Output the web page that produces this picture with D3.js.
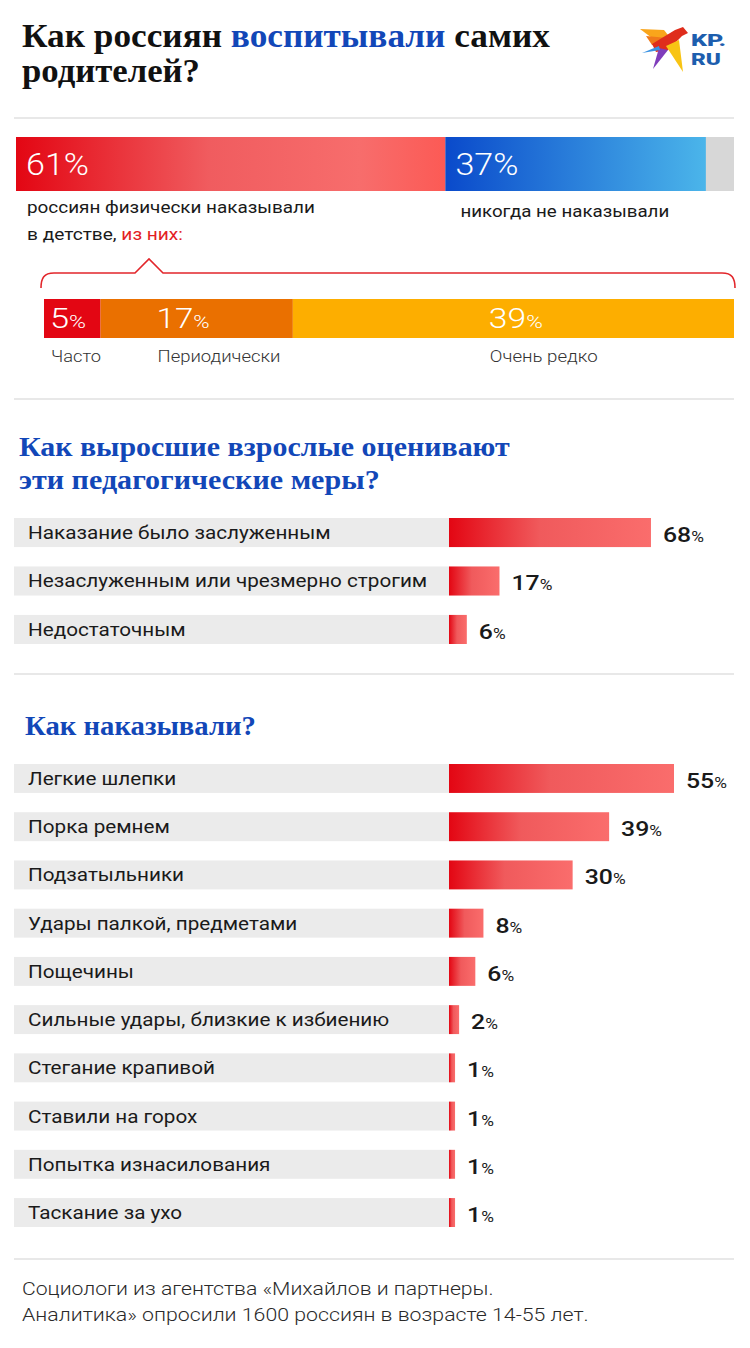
<!DOCTYPE html>
<html><head><meta charset="utf-8">
<script src="https://cdn.jsdelivr.net/npm/d3@7"></script>
<style>
html,body{margin:0;padding:0;background:#fff;}
svg{display:block;}
</style></head>
<body>
<script>
// ---------- DATA ----------
const topShares = [61, 37];              // физически наказывали / никогда не наказывали
const topTotal = 102;                    // bar scale total (incl. grey remainder)
const topLabels = ["61%", "37%"];
const freqCategories = ["Часто", "Периодически", "Очень редко"];
const freqValues = [5, 17, 39];
const evalCategories = ["Наказание было заслуженным", "Незаслуженным или чрезмерно строгим", "Недостаточным"];
const evalValues = [68, 17, 6];
const methodCategories = ["Легкие шлепки", "Порка ремнем", "Подзатыльники", "Удары палкой, предметами", "Пощечины",
  "Сильные удары, близкие к избиению", "Стегание крапивой", "Ставили на горох", "Попытка изнасилования", "Таскание за ухо"];
const methodValues = [55, 39, 30, 8, 6, 2, 1, 1, 1, 1];

// ---------- LAYOUT ----------
const W = 750, H = 1348;
const SANS = "Roboto, 'Noto Sans', sans-serif";
const SERIF = "'Liberation Serif', 'DejaVu Serif', serif";
const BLUE = "#1247b8";

const svg = d3.select("body").append("svg").attr("width", W).attr("height", H);
svg.append("rect").attr("width", W).attr("height", H).attr("fill", "#fff");
const defs = svg.append("defs");
function grad(id, stops) {
  const g = defs.append("linearGradient").attr("id", id).attr("x1", 0).attr("x2", 1).attr("y1", 0).attr("y2", 0);
  stops.forEach(s => g.append("stop").attr("offset", s[0]).attr("stop-color", s[1]));
}
grad("gBigRed", [[0, "#e30613"], [0.45, "#f05c5f"], [0.8, "#f76d6c"], [1, "#fc5a55"]]);
grad("gBlue", [[0, "#0a4acb"], [1, "#4bb5ea"]]);
grad("gBar", [[0, "#e30613"], [0.45, "#f05a5c"], [1, "#fa6d6c"]]);

// stretch a text horizontally to a target width (around its x anchor)
function fit(sel, target) {
  sel.each(function () {
    const n = this, w = n.getComputedTextLength();
    const x = +n.getAttribute("x") || 0;
    const s = target / w;
    d3.select(n).attr("transform", `translate(${x},0) scale(${s},1) translate(${-x},0)`);
  });
}
function stretchBy(sel, s) {
  sel.each(function () {
    const x = +this.getAttribute("x") || 0;
    d3.select(this).attr("transform", `translate(${x},0) scale(${s},1) translate(${-x},0)`);
  });
}
function sep(y) {
  svg.append("line").attr("x1", 14).attr("x2", 734).attr("y1", y).attr("y2", y)
    .attr("stroke", "#e8e8e8").attr("stroke-width", 2);
}

// ---------- TITLE ----------
const t1 = svg.append("text").attr("x", 22).attr("y", 47).attr("font-family", SERIF)
  .attr("font-weight", "bold").attr("font-size", 34).attr("fill", "#111");
t1.append("tspan").text("Как россиян ");
t1.append("tspan").attr("fill", BLUE).text("воспитывали");
t1.append("tspan").text(" самих");
fit(t1, 528);
const t2 = svg.append("text").attr("x", 22).attr("y", 82).attr("font-family", SERIF)
  .attr("font-weight", "bold").attr("font-size", 34).attr("fill", "#111").text("родителей?");
fit(t2, 178);

// ---------- LOGO ----------
const logo = svg.append("g");
const poly = (pts, c) => logo.append("polygon").attr("points", pts.map(p => p.join(",")).join(" ")).attr("fill", c);
poly([[640, 29], [664, 30], [672, 40], [656, 41]], "#f9a51b");
poly([[646, 36], [668, 38], [664, 46], [652, 45]], "#f07a1a");
poly([[652, 44], [675, 30], [683, 27], [688, 33], [682, 36], [668, 50], [656, 52]], "#df2d1c");
poly([[666, 46], [679, 40], [683, 72]], "#f8c414");
poly([[659, 48], [668, 50], [653, 69]], "#7f3dbb");
poly([[642, 53], [659, 46], [660, 50]], "#3b93e3");
const kp = logo.append("text").attr("x", 691).attr("y", 46).attr("font-family", SANS).attr("font-weight", 900)
  .attr("font-size", 16).attr("fill", "#1d5eae").text("KP.");
const ru = logo.append("text").attr("x", 691).attr("y", 65).attr("font-family", SANS).attr("font-weight", 900)
  .attr("font-size", 16).attr("fill", "#1d5eae").text("RU");
fit(kp, 35);
fit(ru, 30);

sep(118);

// ---------- TOP BAR ----------
const xTop = d3.scaleLinear().domain([0, topTotal]).range([16, 734]);
const topCum = [0, topShares[0], topShares[0] + topShares[1]];
svg.append("rect").attr("x", xTop(0)).attr("y", 137).attr("width", xTop(topTotal) - xTop(0)).attr("height", 54).attr("fill", "#d7d7d7");
svg.selectAll(".topseg").data(topShares).join("rect")
  .attr("x", (d, i) => xTop(topCum[i])).attr("y", 137)
  .attr("width", d => xTop(d) - xTop(0)).attr("height", 54)
  .attr("fill", (d, i) => i === 0 ? "url(#gBigRed)" : "url(#gBlue)");
const topTxt = svg.selectAll(".toptxt").data(topLabels).join("text")
  .attr("x", (d, i) => xTop(topCum[i]) + 10).attr("y", 175)
  .attr("font-family", SANS).attr("font-weight", 300).attr("font-size", 32).attr("fill", "#fff").text(d => d);
fit(topTxt, 63);

const l1 = svg.append("text").attr("x", 27).attr("y", 213).attr("font-family", SANS).attr("font-size", 17).attr("fill", "#1a1a1a").text("россиян физически наказывали");
fit(l1, 288);
const l2 = svg.append("text").attr("x", 27).attr("y", 240).attr("font-family", SANS).attr("font-size", 17).attr("fill", "#1a1a1a");
l2.append("tspan").text("в детстве, ");
l2.append("tspan").attr("fill", "#e31e24").text("из них:");
fit(l2, 156);
const l3 = svg.append("text").attr("x", xTop(topCum[1]) + 15).attr("y", 217).attr("font-family", SANS).attr("font-size", 17).attr("fill", "#1a1a1a").text("никогда не наказывали");
fit(l3, 209);

// bracket
svg.append("path")
  .attr("d", "M41,288 C41,278 44,273 54,273 L135,273 L149,259 L163,273 L722,273 C732,273 735,278 735,288")
  .attr("fill", "none").attr("stroke", "#e2262b").attr("stroke-width", 1.6);

// ---------- FREQUENCY BAR ----------
const freqTotal = d3.sum(freqValues);
const xFreq = d3.scaleLinear().domain([0, freqTotal]).range([44, 734]);
const freqCum = d3.cumsum([0, ...freqValues]);
const freqColors = ["#e30613", "#ea7000", "#fdae00"];
const freqLabelOffset = [6, 56, 196];
const freqTextW = [36, 53, 54];
const freqCatW = [50, 123, 108];
svg.selectAll(".fseg").data(freqValues).join("rect")
  .attr("x", (d, i) => xFreq(freqCum[i])).attr("y", 299)
  .attr("width", d => xFreq(d) - xFreq(0)).attr("height", 39)
  .attr("fill", (d, i) => freqColors[i]);
freqValues.forEach((v, i) => {
  const x = xFreq(freqCum[i]) + freqLabelOffset[i];
  const t = svg.append("text").attr("x", x).attr("y", 328).attr("font-family", SANS).attr("font-weight", 300)
    .attr("fill", "#fff").attr("font-size", 27);
  t.append("tspan").text(v);
  t.append("tspan").attr("font-size", 18).text("%");
  fit(t, freqTextW[i]);
  const c = svg.append("text").attr("x", x + 1).attr("y", 362).attr("font-family", SANS).attr("font-weight", 300)
    .attr("fill", "#333").attr("font-size", 17).text(freqCategories[i]);
  fit(c, freqCatW[i]);
});

sep(399);

// ---------- SECTION 2 ----------
const s2a = svg.append("text").attr("x", 19).attr("y", 456).attr("font-family", SERIF).attr("font-weight", "bold")
  .attr("font-size", 28).attr("fill", BLUE).text("Как выросшие взрослые оценивают");
fit(s2a, 491);
const s2b = svg.append("text").attr("x", 19).attr("y", 489).attr("font-family", SERIF).attr("font-weight", "bold")
  .attr("font-size", 28).attr("fill", BLUE).text("эти педагогические меры?");
fit(s2b, 361);

const BAR0 = 449;
let labelStretch = null, valueStretch = null;
function rows(cats, vals, y, x) {
  const g = svg.append("g");
  const r = g.selectAll("g").data(cats.map((c, i) => ({ c, v: vals[i] }))).join("g");
  r.append("rect").attr("x", 14).attr("y", d => y(d.c)).attr("width", BAR0 - 14).attr("height", y.bandwidth()).attr("fill", "#ebebeb");
  r.append("rect").attr("x", x(0)).attr("y", d => y(d.c)).attr("width", d => x(d.v) - x(0)).attr("height", y.bandwidth()).attr("fill", "url(#gBar)");
  const lab = r.append("text").attr("x", 28).attr("y", d => y(d.c) + 21).attr("font-family", SANS).attr("font-size", 18)
    .attr("fill", "#1a1a1a").text(d => d.c);
  const val = r.append("text").attr("x", d => x(d.v) + 12).attr("y", d => y(d.c) + 24).attr("font-family", SANS)
    .attr("font-weight", 500).attr("font-size", 20).attr("fill", "#1a1a1a");
  val.append("tspan").text(d => d.v);
  val.append("tspan").attr("font-size", 14).attr("font-weight", 400).text("%");
  if (labelStretch === null) {
    labelStretch = 303 / lab.node().getComputedTextLength();
    valueStretch = 41 / val.node().getComputedTextLength();
  }
  stretchBy(lab, labelStretch);
  stretchBy(val, valueStretch);
}
const y2 = d3.scaleBand().domain(evalCategories).range([518, 644]).paddingInner(0.4).paddingOuter(0);
const x2 = d3.scaleLinear().domain([0, 100]).range([BAR0, BAR0 + 297]);
rows(evalCategories, evalValues, y2, x2);

sep(674);

// ---------- SECTION 3 ----------
const s3 = svg.append("text").attr("x", 25).attr("y", 735).attr("font-family", SERIF).attr("font-weight", "bold")
  .attr("font-size", 28).attr("fill", BLUE).text("Как наказывали?");
fit(s3, 231);
const y3 = d3.scaleBand().domain(methodCategories).range([764, 1227]).paddingInner(0.4).paddingOuter(0);
const x3 = d3.scaleLinear().domain([0, 55]).range([BAR0 + 2, BAR0 + 225]);
rows(methodCategories, methodValues, y3, v => v === 0 ? BAR0 : x3(v));

sep(1259);

// ---------- FOOTER ----------
const f1 = svg.append("text").attr("x", 22).attr("y", 1295).attr("font-family", SANS).attr("font-weight", 300)
  .attr("font-size", 19).attr("fill", "#2a2a2a").text("Социологи из агентства «Михайлов и партнеры.");
fit(f1, 472);
const f2 = svg.append("text").attr("x", 22).attr("y", 1321).attr("font-family", SANS).attr("font-weight", 300)
  .attr("font-size", 19).attr("fill", "#2a2a2a").text("Аналитика» опросили 1600 россиян в возрасте 14-55 лет.");
fit(f2, 567);
</script>
</body></html>
